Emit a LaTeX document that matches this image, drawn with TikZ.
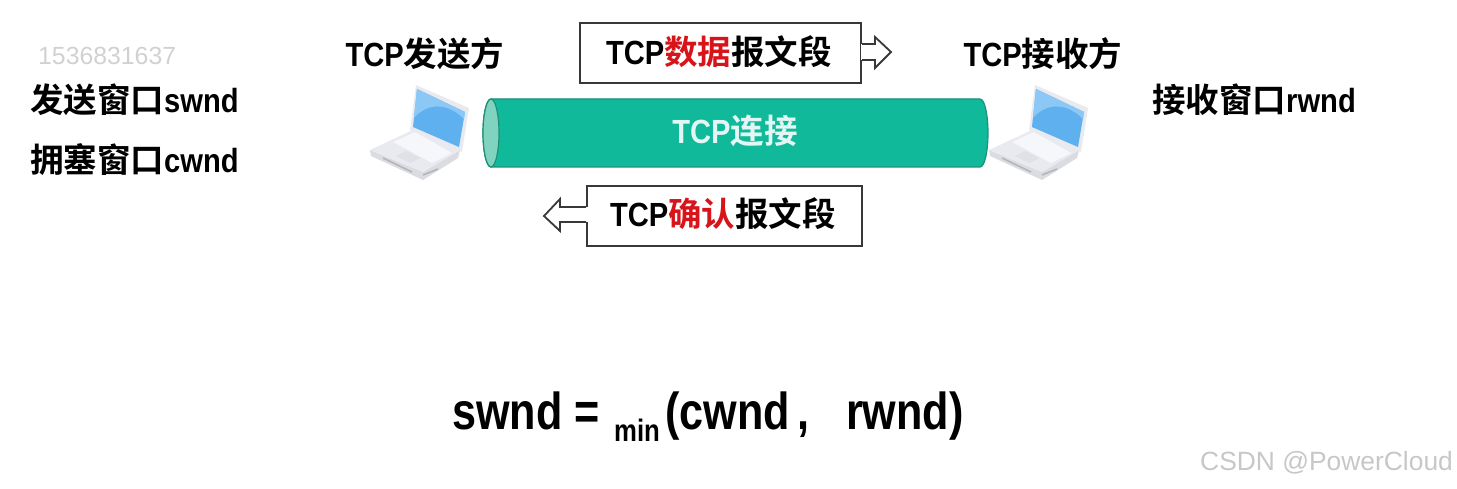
\documentclass[tikz,border=0pt]{standalone}
\usepackage{fontspec}
\setmainfont{Liberation Sans}
\newfontfamily\cjkf{Noto Sans CJK SC}[BoldFont=* Bold]
\newfontfamily\latf{Liberation Sans}[FakeStretch=0.87]
\newfontfamily\forf{Liberation Sans}[FakeStretch=0.83]
\newcommand{\zh}[1]{{\cjkf\bfseries #1}}
\newcommand{\la}[1]{{\latf\bfseries #1}}
\newcommand{\fo}[1]{{\forf\bfseries #1}}
\definecolor{tube}{HTML}{0FB99A}
\definecolor{tubeedge}{HTML}{1F8F78}
\definecolor{tubeend}{HTML}{7FD3BF}
\definecolor{scr}{HTML}{5FB0EE}
\definecolor{scrl}{HTML}{8CC8F5}
\definecolor{lapbody}{HTML}{E8EAEF}
\definecolor{lapedge}{HTML}{DADCE2}
\definecolor{lapkey}{HTML}{F6F7FA}
\definecolor{lapdark}{HTML}{B4B6BC}
\definecolor{redt}{HTML}{D7141A}
\tikzset{
  lbl/.style={inner sep=0pt,text=black,font=\fontsize{33.5}{38}\selectfont},
  msgbox/.style={draw=black!78,line width=2pt,fill=white,inner sep=0pt,anchor=north west},
  hollow/.style={draw=black!78,line width=1.8pt,fill=white,line join=miter},
  wmark/.style={inner sep=0pt,font=\fontsize{24.8}{28}\selectfont,text=black!18},
  bigf/.style={inner sep=0pt,anchor=base west,font=\fontsize{52}{56}\selectfont},
  laptop/.pic={
    \fill[lapedge] (370,150) -- (423,172) -- (460,150) -- (458,158) -- (423,180) -- (371,156) -- cycle;
    \fill[lapbody] (370,150) -- (413,130) -- (460,150) -- (423,172) -- cycle;
    \fill[lapkey] (393,142) -- (415,132) -- (452,153) -- (432,163) -- cycle;
    \fill[lapedge!85!white] (396,156) -- (406,151) -- (420,158) -- (410,163) -- cycle;
    \draw[lapdark,line width=1.6pt] (383,158) -- (412,172);
    \draw[lapdark,line width=1.6pt] (423,175) -- (438,169);
    \fill[lapbody] (416,85) -- (469,108) -- (462,152) -- (410,130) -- cycle;
    \fill[scr] (417,89) -- (465,112) -- (459,147) -- (413,127) -- cycle;
    \fill[scrl] (417,89) -- (465,112) -- (464,119) .. controls (445,100) and (425,105) .. (414,118) -- cycle;
  }
}
\begin{document}
\begin{tikzpicture}[x=1pt,y=-1pt]
\useasboundingbox (0,0) rectangle (1457,489);
\node[wmark,anchor=west] (wm) at (38,56) {1536831637};
\node[lbl,anchor=west] (send) at (30,100) {\zh{发送窗口}\la{swnd}};
\node[lbl,anchor=west] (cong) at (30,160) {\zh{拥塞窗口}\la{cwnd}};
\node[lbl,anchor=west] (recv) at (1152,100) {\zh{接收窗口}\la{rwnd}};
\node[lbl] (sender) at (425,54) {\la{TCP}\zh{发送方}};
\node[lbl] (receiver) at (1043,54) {\la{TCP}\zh{接收方}};
% tube
\path[fill=tube,draw=tubeedge,line width=1.2pt] (491,99) -- (980,99) .. controls (985,99) and (988,116) .. (988,133) .. controls (988,150) and (985,167) .. (980,167) -- (491,167) .. controls (486,167) and (483,150) .. (483,133) .. controls (483,116) and (486,99) .. (491,99) -- cycle;
\draw[fill=tubeend,draw=tubeedge,line width=1.2pt] (491,133) ellipse [x radius=8,y radius=34];
\node[inner sep=0pt,text=white!88!tube,font=\fontsize{33.5}{38}\selectfont] (conn) at (735,131) {\la{TCP}\zh{连接}};
% laptops
\pic (lapa) {laptop};
\pic (lapb) [xshift=619pt] {laptop};
% message boxes
\node[msgbox,minimum width=281pt,minimum height=60pt] (data) at (579,22) {};
\node[lbl] (datat) at (719,52) {\la{TCP}\zh{\textcolor{redt}{数据}报文段}};
\node[msgbox,minimum width=275pt,minimum height=60pt] (ack) at (586,185) {};
\node[lbl] (ackt) at (723,214) {\la{TCP}\zh{\textcolor{redt}{确认}报文段}};
% hollow arrows
\coordinate (d1) at (data.east |- 0,44);
\coordinate (d2) at (data.east |- 0,60);
\draw[white,line width=3pt] (d1) -- (d2);
\draw[hollow] (d1) -- (875,44) -- (875,37) -- (891,52) -- (875,68) -- (875,60) -- (d2);
\coordinate (a1) at (ack.west |- 0,207);
\coordinate (a2) at (ack.west |- 0,222);
\draw[white,line width=3pt] (a1) -- (a2);
\draw[hollow] (a1) -- (560,207) -- (560,199) -- (544,216) -- (560,231) -- (560,222) -- (a2);
% formula
\node[bigf] (fa) at (452,429) {\fo{swnd =}};
\node[inner sep=0pt,anchor=base west,font=\fontsize{31}{34}\selectfont] (fb) at (614,441) {\fo{min}};
\node[bigf] (fc) at (665,429) {\fo{(cwnd}};
\node[bigf] (fd) at (797,429) {\fo{,}};
\node[bigf] (fe) at (846,429) {\fo{rwnd)}};
\node[inner sep=0pt,anchor=west,font=\fontsize{26.4}{30}\selectfont,text=black!22] (csdn) at (1200,463) {CSDN @PowerCloud};
\end{tikzpicture}
\end{document}
